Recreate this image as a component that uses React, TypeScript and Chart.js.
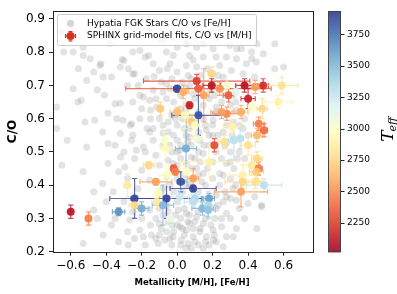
import React, { useEffect, useRef } from "react";
import { Chart, registerables } from "chart.js";

Chart.register(...registerables);

// ---------------- DATA ----------------
const xTickValues = [-0.6, -0.4, -0.2, 0.0, 0.2, 0.4, 0.6];
const xTickLabels = ["\u22120.6", "\u22120.4", "\u22120.2", "0.0", "0.2", "0.4", "0.6"];
const yTickValues = [0.2, 0.3, 0.4, 0.5, 0.6, 0.7, 0.8, 0.9];
const yTickLabels = ["0.2", "0.3", "0.4", "0.5", "0.6", "0.7", "0.8", "0.9"];
const cbarTickValues = [2250, 2500, 2750, 3000, 3250, 3500, 3750];
const cbarMin = 2020;
const cbarMax = 3935;

const hypatiaFeH = [
  -0.64, -0.53, -0.556, -0.47, -0.43, -0.38, -0.31, -0.25, -0.16, -0.13, -0.085, -0.056, -0.022, 0.017, 0.056, 0.09,
  -0.68, -0.54, -0.45, -0.39, -0.32, -0.42, -0.265, -0.19, -0.15, -0.62, -0.51,
  -0.586, -0.53, -0.49, -0.435, -0.417, -0.51, -0.586, -0.37, -0.41, -0.32, -0.30, -0.275, -0.25, -0.21, -0.18,
  -0.135, -0.1, -0.06, -0.04, 0.0, -0.24, -0.175, -0.135, -0.06, -0.21, -0.155, -0.115, -0.06, -0.35, -0.305,
  -0.34, -0.257, -0.21, -0.56, -0.52, -0.465, -0.68, -0.17, -0.135,
  -0.65, -0.53, -0.47, -0.42, -0.39, -0.35, -0.32, -0.417, -0.53, -0.47, -0.32, -0.39, -0.257, -0.23, -0.295,
  -0.24, -0.2, -0.267, -0.21, -0.19, -0.18, -0.145, -0.1, -0.06, -0.023, -0.107, -0.155, -0.276, -0.22, -0.155,
  -0.05, -0.19, -0.135, -0.155, -0.08, 0.0, 0.015, -0.023, 0.006, 0.015, 0.024, -0.03,
  0.07, 0.128, 0.147, 0.08, 0.052, 0.11, 0.147, 0.24, 0.278, 0.315, 0.278, 0.334, 0.26, 0.475, 0.437, 0.40,
  0.22, 0.278, 0.212, 0.334, 0.25, 0.203, 0.128, 0.278, 0.22, 0.165, 0.09, 0.07, 0.052, 0.11, 0.147, 0.062,
  0.147, 0.26, 0.118, 0.052, 0.09,
  0.052, 0.11, 0.147, 0.203, 0.297, 0.362, 0.42, 0.07, 0.147, 0.22, 0.278, 0.334, 0.39, 0.447, 0.55, 0.052,
  0.11, 0.24, 0.306, 0.372, 0.437, 0.062, 0.26, 0.185, 0.09, 0.052, 0.147, 0.22, 0.334, 0.07, 0.203, 0.315,
  0.07, 0.165, 0.26, 0.372,
  0.39, 0.45, 0.55, 0.486, 0.42, 0.6, 0.30, 0.223, 0.13, 0.055, 0.336,
  0.477, 0.45, 0.317, 0.205,
  -0.6, -0.45, -0.3, -0.15, 0.0, 0.1, 0.2, -0.5, -0.65, 0.25,
  -0.1, -0.05, 0.0, 0.03, -0.08, -0.03, 0.02, -0.12, -0.1, 0.12, 0.18, 0.2, 0.16, 0.12, 0.06, -0.02, 0.04, 0.22,
  0.25, 0.3, 0.28, 0.35, 0.32, 0.38, 0.24, 0.2, 0.16, 0.12, 0.3, 0.35, 0.3, 0.38, 0.22, 0.05, 0.0, -0.04, -0.08,
  -0.02, 0.02, -0.05, -0.08, -0.12, -0.03, 0.04, -0.07, 0.1, 0.18, 0.05, -0.1, -0.15, -0.2, -0.25, -0.3, -0.35,
  0.0, 0.03, -0.03, 0.08, 0.13, 0.17, 0.23, 0.18, 0.1, 0.25, 0.3, 0.12, -0.02, -0.08, 0.05, -0.03, 0.02,
  0.0, 0.02, 0.05, 0.08, 0.1, 0.13, 0.15, 0.18, 0.2, 0.22, 0.15, 0.05, -0.01, -0.05, -0.08, -0.04, 0.0, 0.04,
  0.08, 0.12, 0.17, 0.2, 0.14, 0.07, 0.03, 0.0, 0.04, 0.07, 0.1, 0.13, 0.16, 0.19, 0.21, 0.16, 0.12, 0.08,
  0.02, -0.02, -0.05, -0.09, -0.12, -0.04, 0.0, 0.03, 0.06, -0.01, -0.06, -0.1, 0.25, 0.23, 0.27, 0.3, 0.33,
  0.26, 0.3, 0.34, 0.27, 0.23, 0.31, 0.35, 0.28, 0.4, 0.38, 0.33, 0.27, 0.21, 0.14, 0.07, 0.02, -0.04, -0.09,
  -0.12, -0.15, -0.2, -0.25, -0.28, -0.22, -0.18, -0.25, -0.3, -0.28, -0.33, -0.36, -0.4, -0.45, -0.37, -0.28,
  -0.33, -0.24,
];
const hypatiaCO = [
  0.80, 0.815, 0.75, 0.74, 0.765, 0.827, 0.778, 0.734, 0.79, 0.727, 0.835, 0.75, 0.79, 0.86, 0.827, 0.776,
  0.635, 0.655, 0.686, 0.616, 0.646, 0.56, 0.58, 0.665, 0.625, 0.535, 0.515,
  0.80, 0.79, 0.78, 0.76, 0.725, 0.715, 0.69, 0.725, 0.67, 0.755, 0.775, 0.75, 0.80, 0.805, 0.785,
  0.765, 0.745, 0.80, 0.765, 0.815, 0.735, 0.72, 0.685, 0.705, 0.67, 0.655, 0.635, 0.66, 0.645, 0.595,
  0.60, 0.585, 0.60, 0.65, 0.59, 0.595, 0.57, 0.57, 0.57,
  0.46, 0.44, 0.38, 0.405, 0.465, 0.52, 0.485, 0.25, 0.225, 0.325, 0.555, 0.525, 0.535, 0.505, 0.455,
  0.48, 0.445, 0.295, 0.265, 0.245, 0.22, 0.25, 0.285, 0.26, 0.245, 0.225, 0.325, 0.22, 0.39, 0.415,
  0.475, 0.515, 0.535, 0.56, 0.557, 0.535, 0.505, 0.465, 0.325, 0.275, 0.235, 0.22,
  0.545, 0.535, 0.495, 0.485, 0.465, 0.45, 0.435, 0.435, 0.465, 0.39, 0.365, 0.355, 0.35, 0.335, 0.365, 0.345,
  0.33, 0.315, 0.30, 0.27, 0.275, 0.265, 0.26, 0.245, 0.23, 0.245, 0.245, 0.285, 0.315, 0.305, 0.285, 0.225,
  0.21, 0.215, 0.32, 0.265, 0.27,
  0.825, 0.815, 0.825, 0.81, 0.82, 0.81, 0.80, 0.79, 0.785, 0.785, 0.785, 0.78, 0.765, 0.77, 0.75, 0.76,
  0.755, 0.76, 0.745, 0.735, 0.725, 0.73, 0.725, 0.685, 0.675, 0.645, 0.64, 0.635, 0.625, 0.605, 0.595, 0.59,
  0.57, 0.565, 0.56, 0.57,
  0.85, 0.825, 0.825, 0.795, 0.78, 0.755, 0.86, 0.845, 0.855, 0.86, 0.81,
  0.34, 0.27, 0.245, 0.235,
  0.89, 0.90, 0.88, 0.87, 0.90, 0.88, 0.89, 0.86, 0.86, 0.87,
  0.60, 0.59, 0.58, 0.60, 0.52, 0.50, 0.48, 0.49, 0.46, 0.50, 0.52, 0.55, 0.58, 0.56, 0.53, 0.55, 0.57, 0.50,
  0.48, 0.50, 0.53, 0.50, 0.45, 0.48, 0.40, 0.42, 0.40, 0.38, 0.42, 0.33, 0.30, 0.30, 0.37, 0.40, 0.42, 0.40, 0.39,
  0.38, 0.30, 0.32, 0.31, 0.30, 0.28, 0.25, 0.235, 0.23, 0.22, 0.21, 0.25, 0.28, 0.30, 0.32, 0.35, 0.30,
  0.74, 0.71, 0.72, 0.72, 0.73, 0.75, 0.73, 0.66, 0.66, 0.65, 0.64, 0.62, 0.65, 0.68, 0.69, 0.61, 0.63,
  0.50, 0.52, 0.55, 0.52, 0.48, 0.47, 0.52, 0.55, 0.58, 0.62, 0.60, 0.63, 0.60, 0.56, 0.58, 0.52, 0.46, 0.43,
  0.45, 0.43, 0.45, 0.47, 0.41, 0.40, 0.38, 0.35, 0.33, 0.31, 0.29, 0.27, 0.30, 0.28, 0.25, 0.23, 0.22, 0.21,
  0.22, 0.26, 0.29, 0.27, 0.24, 0.24, 0.28, 0.27, 0.29, 0.31, 0.34, 0.33, 0.30, 0.34, 0.38, 0.36, 0.40,
  0.43, 0.47, 0.48, 0.52, 0.55, 0.55, 0.58, 0.58, 0.55, 0.60, 0.65, 0.67, 0.67, 0.69, 0.70, 0.67, 0.69, 0.71,
  0.66, 0.60, 0.63, 0.65, 0.70, 0.70, 0.50, 0.55, 0.50, 0.42, 0.44, 0.38, 0.35, 0.30, 0.28, 0.26,
  0.23, 0.24,
];

const sphinxMH = [
  -0.60, -0.50, -0.33, -0.24, -0.24, -0.28, -0.20, -0.16, -0.12, -0.07,
  -0.065, 0.05, 0.11, 0.21, 0.265, 0.32, 0.355, 0.40, 0.45, 0.49,
  0.18, 0.45, 0.42, 0.46, 0.447, 0.37, 0.05, 0.09, 0.37, 0.44,
  0.49, 0.36, 0.09, 0.02, 0.10, 0.18, 0.09, 0.143, 0.175, 0.175,
  -0.105, -0.115, -0.06, -0.08, 0.015, -0.04, -0.02, -0.01, -0.06, 0.0,
  0.035, 0.12, 0.11, 0.15, 0.195, 0.195, 0.28, 0.29, 0.33, 0.38,
  0.44, 0.485, 0.59, 0.57, 0.07, -0.095, 0.0, 0.045, 0.12, 0.083,
  0.31, 0.28, 0.36, 0.46, 0.42, 0.48, 0.40, 0.24, 0.10, 0.25,
];
const sphinxCO = [
  0.32, 0.30, 0.32, 0.36, 0.34, 0.40, 0.33, 0.46, 0.41, 0.535,
  0.51, 0.51, 0.54, 0.52, 0.53, 0.535, 0.54, 0.52, 0.55, 0.565,
  0.47, 0.48, 0.46, 0.45, 0.44, 0.43, 0.44, 0.42, 0.41, 0.41,
  0.40, 0.38, 0.39, 0.41, 0.36, 0.36, 0.35, 0.33, 0.34, 0.325,
  0.375, 0.35, 0.36, 0.34, 0.365, 0.30, 0.45, 0.44, 0.43, 0.69,
  0.68, 0.69, 0.713, 0.67, 0.735, 0.70, 0.70, 0.67, 0.68, 0.70,
  0.695, 0.70, 0.70, 0.65, 0.64, 0.63, 0.62, 0.61, 0.61, 0.59,
  0.575, 0.615, 0.62, 0.585, 0.635, 0.63, 0.66, 0.69, 0.58, 0.62,
];
const sphinxMHErr = [
  0, 0, 0.035, 0.14, 0.03, 0.02, 0.04, 0.03, 0.09, 0.01,
  0.03, 0.06, 0.03, 0.0, 0.03, 0.03, 0.02, 0.04, 0.03, 0.02,
  0.16, 0.03, 0.05, 0.02, 0.04, 0.08, 0.03, 0.03, 0.10, 0.04,
  0.10, 0.15, 0.13, 0.02, 0.03, 0.03, 0.05, 0.06, 0.04, 0.04,
  0.02, 0.03, 0.20, 0.06, 0.05, 0.02, 0.01, 0.01, 0.04, 0.02,
  0.03, 0.41, 0.30, 0.03, 0.02, 0.05, 0.06, 0.03, 0.05, 0.05,
  0.04, 0.03, 0.09, 0.08, 0.01, 0.01, 0.04, 0.03, 0.15, 0.03,
  0.05, 0.08, 0.04, 0.03, 0.03, 0.03, 0.04, 0.05, 0.03, 0.06,
];
const sphinxCOErr = [
  0.02, 0.02, 0.012, 0.06, 0.02, 0.035, 0.02, 0.01, 0.01, 0.025,
  0.02, 0.10, 0.02, 0.02, 0.02, 0.06, 0.03, 0.03, 0.02, 0.02,
  0.05, 0.02, 0.03, 0.02, 0.02, 0.03, 0.02, 0.03, 0.02, 0.02,
  0.02, 0.045, 0.01, 0.03, 0.03, 0.015, 0.02, 0.02, 0.04, 0.02,
  0.04, 0.02, 0.06, 0.06, 0.02, 0.02, 0.01, 0.01, 0.03, 0.01,
  0.02, 0.02, 0.02, 0.08, 0.02, 0.02, 0.02, 0.02, 0.02, 0.02,
  0.02, 0.02, 0.025, 0.02, 0.01, 0.02, 0.015, 0.04, 0.06, 0.02,
  0.02, 0.02, 0.02, 0.02, 0.02, 0.03, 0.03, 0.02, 0.02, 0.02,
];
const sphinxTeff = [
  2100, 2450, 3650, 3900, 2750, 2850, 3550, 2750, 2550, 3000,
  2950, 3550, 3050, 2300, 2800, 3300, 3300, 2800, 2650, 2400,
  2900, 2750, 2850, 2450, 2700, 2900, 3000, 2550, 2750, 2800,
  3300, 2550, 3900, 3850, 3350, 3600, 3300, 3500, 3350, 3450,
  2950, 2850, 3900, 3500, 3250, 3100, 2350, 2450, 2950, 3900,
  2600, 2350, 2250, 2550, 2750, 2100, 3050, 2350, 3150, 2100,
  2550, 2200, 2800, 2900, 2150, 2700, 2650, 2950, 3850, 2700,
  2900, 2500, 2600, 2450, 3000, 2750, 2150, 2500, 3000, 2550,
];

// ---------------- COLORMAP ----------------
const RDYLBU = ["#a50026", "#d73027", "#f46d43", "#fdae61", "#fee090", "#ffffbf", "#e0f3f8", "#abd9e9", "#74add1", "#4575b4", "#313695"];
function hexToRgb(h: string) {
  return [parseInt(h.slice(1, 3), 16), parseInt(h.slice(3, 5), 16), parseInt(h.slice(5, 7), 16)];
}
const RDYLBU_RGB = RDYLBU.map(hexToRgb);
function cmap(t: number, alpha = 1) {
  t = Math.max(0, Math.min(1, t));
  const p = t * (RDYLBU_RGB.length - 1);
  const i = Math.min(Math.floor(p), RDYLBU_RGB.length - 2);
  const f = p - i;
  const a = RDYLBU_RGB[i], b = RDYLBU_RGB[i + 1];
  const c = [0, 1, 2].map((k) => Math.round(a[k] + (b[k] - a[k]) * f));
  return `rgba(${c[0]},${c[1]},${c[2]},${alpha})`;
}
function teffColor(T: number, alpha = 1) {
  return cmap((T - cbarMin) / (cbarMax - cbarMin), alpha);
}

const FONT = "'DejaVu Sans', sans-serif";

const overlayPlugin = {
  id: "overlay",
  beforeDatasetDraw(chart: any, args: any) {
    if (args.index !== 0) return;
    const ctx = chart.ctx;
    const xs = chart.scales.x, ys = chart.scales.y;
    const a = chart.chartArea;
    ctx.save();
    ctx.beginPath();
    ctx.rect(a.left, a.top, a.right - a.left, a.bottom - a.top);
    ctx.clip();
    ctx.lineWidth = 1.2;
    const cap = 2.5;
    for (let i = 0; i < sphinxMH.length; i++) {
      const x = sphinxMH[i], y = sphinxCO[i];
      const xe = sphinxMHErr[i], ye = sphinxCOErr[i];
      ctx.strokeStyle = teffColor(sphinxTeff[i], 0.8);
      const px = xs.getPixelForValue(x), py = ys.getPixelForValue(y);
      const x0 = xs.getPixelForValue(x - xe), x1 = xs.getPixelForValue(x + xe);
      const y0 = ys.getPixelForValue(y - ye), y1 = ys.getPixelForValue(y + ye);
      ctx.beginPath();
      if (xe > 0) {
        ctx.moveTo(x0, py); ctx.lineTo(x1, py);
        ctx.moveTo(x0, py - cap); ctx.lineTo(x0, py + cap);
        ctx.moveTo(x1, py - cap); ctx.lineTo(x1, py + cap);
      }
      if (ye > 0) {
        ctx.moveTo(px, y0); ctx.lineTo(px, y1);
        ctx.moveTo(px - cap, y0); ctx.lineTo(px + cap, y0);
        ctx.moveTo(px - cap, y1); ctx.lineTo(px + cap, y1);
      }
      ctx.stroke();
    }
    ctx.restore();
  },
  afterDraw(chart: any) {
    const ctx = chart.ctx;
    const a = chart.chartArea;
    ctx.save();
    // frame
    ctx.strokeStyle = "#222";
    ctx.lineWidth = 1;
    ctx.strokeRect(Math.round(a.left) + 0.5, Math.round(a.top) + 0.5, Math.round(a.right - a.left), Math.round(a.bottom - a.top));

    // axis titles
    ctx.fillStyle = "#000";
    ctx.font = `bold 12px ${FONT}`;
    ctx.textAlign = "center";
    ctx.textBaseline = "middle";
    ctx.save();
    ctx.translate(13, (a.top + a.bottom) / 2);
    ctx.rotate(-Math.PI / 2);
    ctx.fillText("C/O", 0, 0);
    ctx.restore();
    ctx.font = `bold 8.5px ${FONT}`;
    ctx.fillText("Metallicity [M/H], [Fe/H]", 192, 283);

    // colorbar
    const cbL = 328, cbR = 341, cbT = a.top, cbB = a.bottom;
    const h = cbB - cbT;
    for (let i = 0; i < Math.ceil(h); i++) {
      const t = 1 - (i + 0.5) / h;
      ctx.fillStyle = cmap(t);
      ctx.fillRect(cbL, cbT + i, cbR - cbL, 1.2);
    }
    ctx.strokeStyle = "#444";
    ctx.lineWidth = 1;
    ctx.strokeRect(cbL + 0.5, Math.round(cbT) + 0.5, cbR - cbL - 1, Math.round(h) - 1);
    ctx.fillStyle = "#000";
    ctx.font = `9px ${FONT}`;
    ctx.textAlign = "left";
    ctx.textBaseline = "middle";
    for (const v of cbarTickValues) {
      const py = cbB - ((v - cbarMin) / (cbarMax - cbarMin)) * h;
      ctx.beginPath();
      ctx.moveTo(cbR, Math.round(py) + 0.5);
      ctx.lineTo(cbR + 3.5, Math.round(py) + 0.5);
      ctx.strokeStyle = "#222";
      ctx.stroke();
      ctx.fillText(String(v), cbR + 6, py);
    }
    // T_eff label
    ctx.save();
    ctx.translate(387, 129);
    ctx.rotate(-Math.PI / 2);
    ctx.textAlign = "left";
    ctx.textBaseline = "alphabetic";
    ctx.font = `italic 17px 'DejaVu Serif', serif`;
    const tw = ctx.measureText("T").width;
    ctx.font = `italic 11px 'DejaVu Serif', serif`;
    const ew = ctx.measureText("eff").width;
    const start = -(tw + ew) / 2;
    ctx.font = `italic 17px 'DejaVu Serif', serif`;
    ctx.fillText("T", start, 6);
    ctx.font = `italic 11px 'DejaVu Serif', serif`;
    ctx.fillText("eff", start + tw - 1, 9);
    ctx.restore();

    // legend
    const lx = 57, ly = 14, lw = 199, lh = 31;
    ctx.fillStyle = "rgba(255,255,255,0.8)";
    ctx.strokeStyle = "#cccccc";
    ctx.lineWidth = 1;
    ctx.beginPath();
    (ctx as any).roundRect(lx + 0.5, ly + 0.5, lw, lh, 2);
    ctx.fill();
    ctx.stroke();
    ctx.fillStyle = "rgba(128,128,128,0.3)";
    ctx.beginPath();
    ctx.arc(70.5, 23.5, 3.5, 0, Math.PI * 2);
    ctx.fill();
    const rc = "#d7301f";
    ctx.strokeStyle = rc;
    ctx.lineWidth = 1.2;
    ctx.beginPath();
    ctx.moveTo(65.5, 36); ctx.lineTo(75.5, 36);
    ctx.moveTo(65.5, 34); ctx.lineTo(65.5, 38);
    ctx.moveTo(75.5, 34); ctx.lineTo(75.5, 38);
    ctx.moveTo(70.5, 31.5); ctx.lineTo(70.5, 41);
    ctx.moveTo(68.5, 31.5); ctx.lineTo(72.5, 31.5);
    ctx.moveTo(68.5, 41); ctx.lineTo(72.5, 41);
    ctx.stroke();
    ctx.fillStyle = rc;
    ctx.beginPath();
    ctx.arc(70.5, 36, 4, 0, Math.PI * 2);
    ctx.fill();
    ctx.fillStyle = "#000";
    ctx.font = `9px ${FONT}`;
    ctx.textAlign = "left";
    ctx.textBaseline = "middle";
    ctx.fillText("Hypatia FGK Stars C/O vs [Fe/H]", 87, 23.5);
    ctx.fillText("SPHINX grid-model fits, C/O vs [M/H]", 87, 36);
    ctx.restore();
  },
};

export default function App() {
  const ref = useRef<HTMLCanvasElement | null>(null);
  useEffect(() => {
    document.body.style.margin = "0";
    const canvas = ref.current!;
    const chart = new Chart(canvas, {
      type: "scatter",
      data: {
        datasets: [
          {
            label: "SPHINX grid-model fits, C/O vs [M/H]",
            data: sphinxMH.map((x, i) => ({ x, y: sphinxCO[i] })),
            backgroundColor: sphinxTeff.map((t) => teffColor(t, 0.92)),
            borderWidth: 0,
            pointRadius: 4,
          },
          {
            label: "Hypatia FGK Stars C/O vs [Fe/H]",
            data: hypatiaFeH.map((x, i) => ({ x, y: hypatiaCO[i] })),
            backgroundColor: "rgba(128,128,128,0.22)",
            borderWidth: 0,
            pointRadius: 3.5,
          },
        ],
      },
      options: {
        responsive: false,
        animation: false,
        devicePixelRatio: 1,
        layout: { padding: { top: 10.7, right: 84, left: 0, bottom: 0 } },
        plugins: { legend: { display: false }, tooltip: { enabled: false } },
        scales: {
          x: {
            type: "linear",
            min: -0.7,
            max: 0.766,
            afterBuildTicks: (scale: any) => {
              scale.ticks = xTickValues.map((v) => ({ value: v }));
            },
            afterFit: (scale: any) => {
              scale.height = 42.3;
            },
            ticks: {
              callback: (_v: any, i: number) => xTickLabels[i],
              font: { family: FONT, size: 12 },
              color: "#000",
              padding: 3,
              maxRotation: 0,
              autoSkip: false,
            },
            grid: { display: true, drawOnChartArea: false, drawTicks: true, tickLength: 4, color: "#222" },
            border: { display: false },
          },
          y: {
            type: "linear",
            min: 0.2,
            max: 0.923,
            afterBuildTicks: (scale: any) => {
              scale.ticks = yTickValues.map((v) => ({ value: v }));
            },
            afterFit: (scale: any) => {
              scale.width = 53;
            },
            ticks: {
              callback: (_v: any, i: number) => yTickLabels[i],
              font: { family: FONT, size: 12 },
              color: "#000",
              padding: 4,
              autoSkip: false,
            },
            grid: { display: true, drawOnChartArea: false, drawTicks: true, tickLength: 4, color: "#222" },
            border: { display: false },
          },
        },
      },
      plugins: [overlayPlugin],
    });
    return () => chart.destroy();
  }, []);
  return (
    <div style={{ position: "absolute", left: 0, top: 0, width: 397, height: 294, background: "#fff" }}>
      <canvas ref={ref} width={397} height={294} style={{ width: 397, height: 294, display: "block" }} />
    </div>
  );
}
